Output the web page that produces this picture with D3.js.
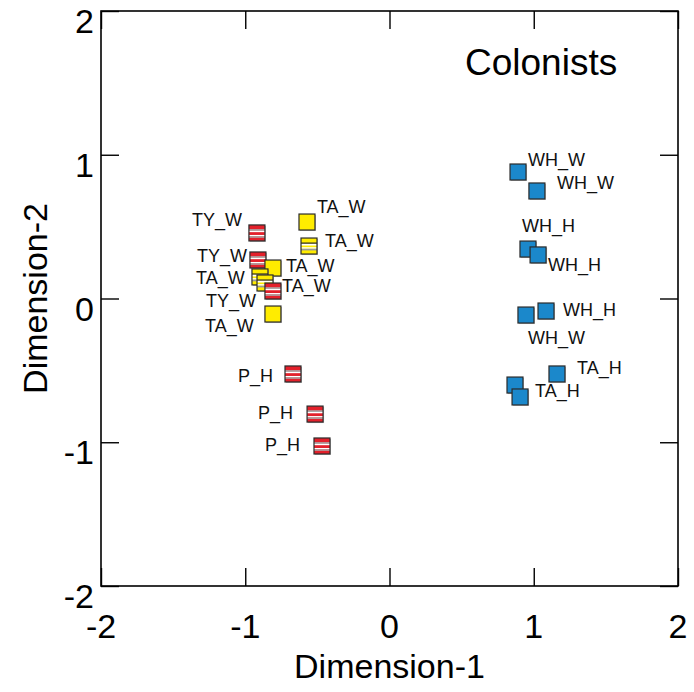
<!DOCTYPE html>
<html>
<head>
<meta charset="utf-8">
<script src="https://cdn.jsdelivr.net/npm/d3@7"></script>
<style>
  html, body { margin: 0; padding: 0; background: #fff; }
  svg { display: block; font-family: "Liberation Sans", Arial, sans-serif; }
</style>
</head>
<body>
<svg id="chart" width="694" height="692"></svg>
<script>
// ---- data ----
const title = "Colonists";
const xLabel = "Dimension-1";
const yLabel = "Dimension-2";
const tickValues = [-2, -1, 0, 1, 2];

// Blue (plain) points: [dim1, dim2]
const bluePoints = [
  [0.891, 0.880], [1.022, 0.748], [0.960, 0.344], [1.030, 0.303],
  [0.946, -0.115], [1.085, -0.087], [1.161, -0.525], [0.870, -0.602], [0.905, -0.685]
];
// Red striped points
const redPoints = [
  [-0.919, 0.456], [-0.912, 0.268], [-0.808, 0.052],
  [-0.669, -0.525], [-0.516, -0.804], [-0.468, -1.026]
];
// Yellow plain points
const yellowPoints = [
  [-0.572, 0.532], [-0.808, 0.212], [-0.808, -0.108]
];
// Yellow striped points
const yellowStripedPoints = [
  [-0.558, 0.365], [-0.898, 0.150], [-0.863, 0.108]
];
// Point labels: [text, dim1, dim2] (left edge / baseline)
const pointLabels = [
  ["TY_W", -1.369, 0.504], ["TA_W", -0.503, 0.595], ["TA_W", -0.447, 0.358],
  ["TY_W", -1.334, 0.254], ["TA_W", -0.718, 0.184], ["TA_W", -1.341, 0.101],
  ["TA_W", -0.745, 0.045], ["TY_W", -1.272, -0.059], ["TA_W", -1.279, -0.233],
  ["P_H", -1.050, -0.581], ["P_H", -0.912, -0.838], ["P_H", -0.863, -1.061],
  ["WH_W", 0.960, 0.922], ["WH_W", 1.161, 0.762], ["WH_H", 0.919, 0.463],
  ["WH_H", 1.099, 0.191], ["WH_H", 1.203, -0.122], ["WH_W", 0.960, -0.317],
  ["TA_H", 1.300, -0.525], ["TA_H", 1.009, -0.685]
];

// ---- layout ----
const svg = d3.select("#chart");
const pL = 101, pR = 678, pT = 11, pB = 586;
const x = d3.scaleLinear().domain([-2, 2]).range([pL, pR]);
const y = d3.scaleLinear().domain([-2, 2]).range([pB, pT]);
const tickLen = 18;

// frame
svg.append("rect").attr("x", pL).attr("y", pT)
  .attr("width", pR - pL).attr("height", pB - pT)
  .attr("fill", "none").attr("stroke", "#000").attr("stroke-width", 1.6);

// inward ticks on all four sides
const bottomAxis = d3.axisBottom(x).tickValues(tickValues).tickSizeInner(-tickLen).tickSizeOuter(0).tickFormat("");
const topAxis = d3.axisTop(x).tickValues(tickValues).tickSizeInner(-tickLen).tickSizeOuter(0).tickFormat("");
const leftAxis = d3.axisLeft(y).tickValues(tickValues).tickSizeInner(-tickLen).tickSizeOuter(0).tickFormat("");
const rightAxis = d3.axisRight(y).tickValues(tickValues).tickSizeInner(-tickLen).tickSizeOuter(0).tickFormat("");
function styleAxis(g) {
  g.select(".domain").remove();
  g.selectAll(".tick line").attr("stroke", "#000").attr("stroke-width", 1.4);
}
svg.append("g").attr("transform", `translate(0,${pB})`).call(bottomAxis).call(styleAxis);
svg.append("g").attr("transform", `translate(0,${pT})`).call(topAxis).call(styleAxis);
svg.append("g").attr("transform", `translate(${pL},0)`).call(leftAxis).call(styleAxis);
svg.append("g").attr("transform", `translate(${pR},0)`).call(rightAxis).call(styleAxis);

// tick labels
const tickFont = 34;
svg.append("g").selectAll("text").data(tickValues).join("text")
  .attr("x", d => x(d)).attr("y", pB + 52)
  .attr("text-anchor", "middle").attr("font-size", tickFont).attr("fill", "#000")
  .text(d => d);
svg.append("g").selectAll("text").data(tickValues).join("text")
  .attr("x", pL - 7).attr("y", d => y(d) + 22)
  .attr("text-anchor", "end").attr("font-size", tickFont).attr("fill", "#000")
  .text(d => d);

// axis titles
svg.append("text").attr("x", (pL + pR) / 2).attr("y", 678)
  .attr("text-anchor", "middle").attr("font-size", 34).text(xLabel);
svg.append("text").attr("transform", `translate(47,${(pT + pB) / 2}) rotate(-90)`)
  .attr("text-anchor", "middle").attr("font-size", 34).text(yLabel);

// title
svg.append("text").attr("x", 465).attr("y", 75)
  .attr("font-size", 37).text(title);

// ---- markers ----
const S = 16, h = S / 2;
function markerBase(g, fill) {
  g.append("rect").attr("x", -h + 1).attr("y", -h + 1).attr("width", S).attr("height", S)
    .attr("fill", "#9a9a9a").attr("opacity", 0.6);
  g.append("rect").attr("x", -h).attr("y", -h).attr("width", S).attr("height", S)
    .attr("fill", fill);
}
function markerBorder(g) {
  g.append("rect").attr("x", -h).attr("y", -h).attr("width", S).attr("height", S)
    .attr("fill", "none").attr("stroke", "#2b2b2b").attr("stroke-width", 1.2);
}
function stripe(g, y0, hh, color) {
  g.append("rect").attr("x", -h).attr("y", -h + y0).attr("width", S).attr("height", hh).attr("fill", color);
}

const allMarkers = [];
bluePoints.forEach(p => allMarkers.push({p, type: "blue"}));
redPoints.forEach(p => allMarkers.push({p, type: "red"}));
yellowPoints.forEach(p => allMarkers.push({p, type: "yellow"}));
yellowStripedPoints.forEach(p => allMarkers.push({p, type: "yellowS"}));
// draw top-to-bottom so lower markers overlap upper ones
allMarkers.sort((a, b) => b.p[1] - a.p[1]);

const mg = svg.append("g");
allMarkers.forEach(m => {
  const g = mg.append("g").attr("transform", `translate(${x(m.p[0])},${y(m.p[1])})`);
  if (m.type === "blue") {
    markerBase(g, "#1b88cb");
  } else if (m.type === "yellow") {
    markerBase(g, "#ffec00");
  } else if (m.type === "red") {
    markerBase(g, "#e3202b");
    stripe(g, 4.2, 1.7, "#a9a9a9");
    stripe(g, 5.9, 1.3, "#ffffff");
    stripe(g, 10.0, 1.3, "#ffffff");
    stripe(g, 11.3, 1.5, "#a9a9a9");
  } else {
    markerBase(g, "#ffec00");
    stripe(g, 4.5, 1.3, "#222");
    stripe(g, 5.8, 1.7, "#ffffff");
    stripe(g, 9.2, 1.5, "#ffffff");
    stripe(g, 10.7, 1.7, "#9a9a9a");
  }
  markerBorder(g);
});

// point labels
svg.append("g").selectAll("text").data(pointLabels).join("text")
  .attr("x", d => x(d[1])).attr("y", d => y(d[2]))
  .attr("font-size", 18).attr("fill", "#111")
  .text(d => d[0]);
</script>
</body>
</html>
